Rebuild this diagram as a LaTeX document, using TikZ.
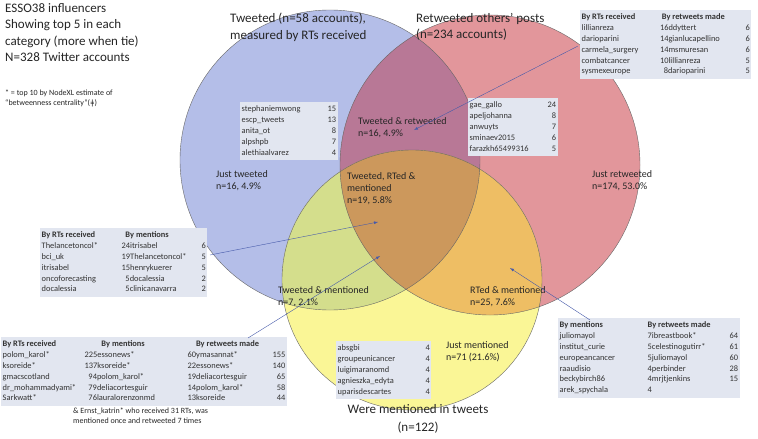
\documentclass[tikz,border=0pt]{standalone}
\usepackage{fontspec}
\setmainfont{Carlito}
\usepackage{array}
\begin{document}
\begin{tikzpicture}[x=1pt,y=-1pt,
  lab/.style={anchor=north west,inner sep=0,font=\fontsize{10}{12}\selectfont,align=left,text=black!85},
  big/.style={anchor=north west,inner sep=0,font=\fontsize{13}{16.5}\selectfont,align=left,text=black!85},
  tab/.style={anchor=north west,inner sep=1.5pt,fill=tabbg,font=\fontsize{8.4}{11.5}\selectfont,text=black!80},
  arr/.style={draw=arrblue,-latex,thin}]
\definecolor{tabbg}{RGB}{226,230,240}
\definecolor{arrblue}{RGB}{70,90,170}
\definecolor{cB}{RGB}{180,190,232}
\definecolor{cR}{RGB}{226,150,155}
\definecolor{cY}{RGB}{250,246,150}
\definecolor{cBR}{RGB}{184,120,150}
\definecolor{cBY}{RGB}{212,222,140}
\definecolor{cRY}{RGB}{238,190,100}
\definecolor{cA}{RGB}{204,152,92}
\setlength{\tabcolsep}{0pt}
\renewcommand{\arraystretch}{0.95}
\useasboundingbox[fill=white] (0,0) rectangle (758,439);
\def\cirB{(330,160) circle (150)}
\def\cirR{(490,165) circle (150)}
\def\cirY{(412,280) circle (130)}
\fill[cB] \cirB; \fill[cR] \cirR; \fill[cY] \cirY;
\begin{scope}\clip \cirB; \fill[cBR] \cirR; \fill[cBY] \cirY; \end{scope}
\begin{scope}\clip \cirR; \fill[cRY] \cirY; \end{scope}
\begin{scope}\clip \cirB; \clip \cirR; \fill[cA] \cirY; \end{scope}
\draw[black!60,thin] \cirB \cirR \cirY;

\node[big] (t1) at (5,3) {ESSO38 influencers\\Showing top 5 in each\\category (more when tie)\\N=328 Twitter accounts};
\node[lab,font=\fontsize{8}{10}\selectfont] (t2) at (5,90) {* = top 10 by NodeXL estimate of\\``betweenness centrality''(\symbol{"01C2})};
\node[big] (hb) at (230,13) {Tweeted (n=58 accounts),\\measured by RTs received};
\node[big] (hr) at (416,13) {Retweeted others' posts\\(n=234 accounts)};
\node[big,anchor=north] (hy) at (418,404) {Were mentioned in tweets};
\node[big,anchor=north] (hy2) at (418,422) {(n=122)};

\node[lab] (l1) at (216,170) {Just tweeted\\n=16, 4.9\%};
\node[lab] (l2) at (358,117) {Tweeted \& retweeted\\n=16, 4.9\%};
\node[lab] (l3) at (592,170) {Just retweeted\\n=174, 53.0\%};
\node[lab] (l4) at (347,172) {Tweeted, RTed \&\\mentioned\\n=19, 5.8\%};
\node[lab] (l5) at (278,286) {Tweeted \& mentioned\\n=7, 2.1\%};
\node[lab] (l6) at (470,286) {RTed \&  mentioned\\n=25, 7.6\%};
\node[lab] (l7) at (446,341) {Just mentioned\\n=71 (21.6\%)};

\node[tab] (TR) at (580,10) {\begin{tabular}{p{68pt}p{96pt}r}
\textbf{By RTs received} & \multicolumn{2}{l}{\textbf{\quad\ \ By retweets made}}\\
lillianreza & \quad\ 16ddyttert & 6\\
darioparini & \quad\ 14gianlucapellino & 6\\
carmela\_surgery & \quad\ 14msmuresan & 6\\
combatcancer & \quad\ 10lillianreza & 5\\
sysmexeurope & \quad\ \ \ 8darioparini & 5\end{tabular}};
\node[tab] (TB) at (240,102) {\begin{tabular}{p{86pt}r}
stephaniemwong & 15\\ escp\_tweets & 13\\ anita\_ot & 8\\ alpshpb & 7\\ alethiaalvarez & 4\end{tabular}};
\node[tab] (TRI) at (468,98) {\begin{tabular}{p{78pt}r}
gae\_gallo & 24\\ apeljohanna & 8\\ anwuyts & 7\\ sminaev2015 & 6\\ farazkh65499316 & 5\end{tabular}};
\node[tab] (TL) at (40,228) {\begin{tabular}{p{80pt}p{80pt}r}
\textbf{By RTs received} & \textbf{\ \ By mentions} & \\
Thelancetoncol* & 24itrisabel & 6\\
bci\_uk & 19Thelancetoncol* & 5\\
itrisabel & 15henrykuerer & 5\\
oncoforecasting & \ \ 5docalessia & 2\\
docalessia & \ \ 5clinicanavarra & 2\end{tabular}};
\node[tab] (TBL) at (1,337) {\begin{tabular}{p{82pt}p{103pt}p{85pt}r}
\textbf{By RTs received} & \textbf{\qquad By mentions} & \textbf{\quad By retweets made} & \\
polom\_karol* & 225essonews* & 60ymasannat* & 155\\
ksoreide* & 137ksoreide* & 22essonews* & 140\\
gmacscotland & \ \ 94polom\_karol* & 19deliacortesguir & 65\\
dr\_mohammadyami* & \ \ 79deliacortesguir & 14polom\_karol* & 58\\
Sarkwatt* & \ \ 76lauralorenzonmd & 13ksoreide & 44\end{tabular}};
\node[lab,font=\fontsize{8}{10}\selectfont] (note) at (73,408) {\& Ernst\_katrin* who received 31 RTs, was\\mentioned once and retweeted 7 times};
\node[tab] (TY) at (336,341) {\begin{tabular}{p{88pt}r}
absgbi & 4\\ groupeunicancer & 4\\ luigimaranomd & 4\\ agnieszka\_edyta & 4\\ uparisdescartes & 4\end{tabular}};
\node[tab] (TBR) at (558,318) {\begin{tabular}{p{88pt}p{82pt}r}
\textbf{By mentions} & \textbf{By retweets made} & \\
juliomayol & 7ibreastbook* & 64\\
institut\_curie & 5celestinogutirr* & 61\\
europeancancer & 5juliomayol & 60\\
raaudisio & 4perbinder & 28\\
beckybirch86 & 4mrjtjenkins & 15\\
arek\_spychala & 4 & \end{tabular}};

\coordinate (a1) at (414,130); \coordinate (s1) at (578,46);
\coordinate (a2) at (378,222); \coordinate (s2) at (210,255);
\coordinate (a3) at (380,256); \coordinate (s3) at (248,338);
\coordinate (a4) at (510,268); \coordinate (s4) at (590,320);
\draw[arr] (s1) -- (a1);
\draw[arr] (s2) -- (a2);
\draw[arr] (s3) -- (a3);
\draw[arr] (s4) -- (a4);
\end{tikzpicture}
\end{document}
